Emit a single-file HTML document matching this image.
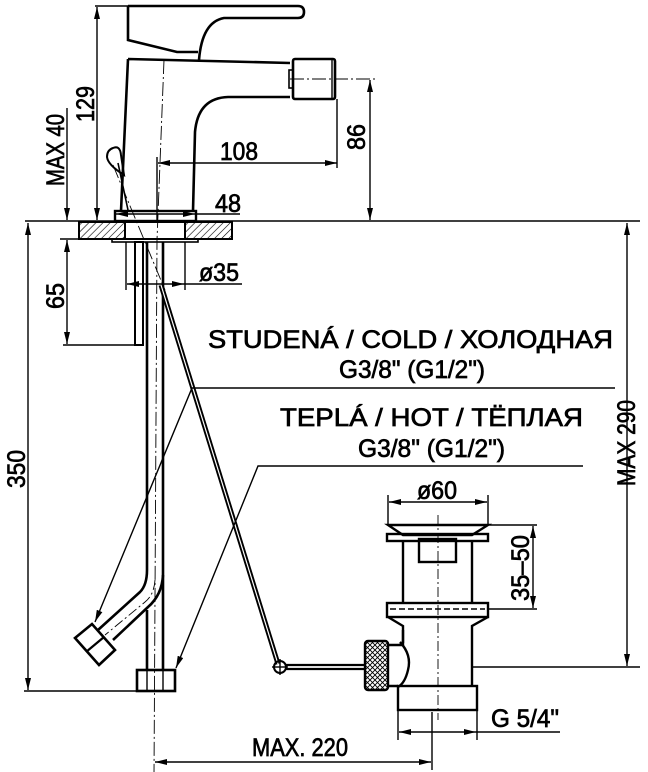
<!DOCTYPE html>
<html><head><meta charset="utf-8"><style>
html,body{margin:0;padding:0;background:#fff;}
svg{display:block}
text{font-family:"Liberation Sans Narrow","Liberation Sans",sans-serif;fill:#000;stroke:#000;stroke-width:0.7;}
</style></head><body>
<svg width="648" height="772" viewBox="0 0 648 772" xmlns="http://www.w3.org/2000/svg">
<defs>
<pattern id="h" width="5" height="5" patternUnits="userSpaceOnUse" patternTransform="rotate(45)">
<line x1="0" y1="0" x2="0" y2="5" stroke="#000" stroke-width="1.2"/></pattern>
<pattern id="k" width="5" height="5" patternUnits="userSpaceOnUse">
<path d="M0 0L5 5M5 0L0 5" stroke="#000" stroke-width="0.9"/></pattern>
<marker id="a" viewBox="0 0 12 6" refX="12" refY="3" markerWidth="12" markerHeight="6" orient="auto" markerUnits="userSpaceOnUse"><path d="M0 0L12 3L0 6z" fill="#000"/></marker>
<marker id="b" viewBox="0 0 12 6" refX="0" refY="3" markerWidth="12" markerHeight="6" orient="auto" markerUnits="userSpaceOnUse"><path d="M12 0L0 3L12 6z" fill="#000"/></marker>
</defs>
<g fill="none" stroke="#000" stroke-width="1.4">
<line x1="25" y1="221" x2="640" y2="221"/>
<path d="M128 6H298Q304 6 304 12Q304 18 298 18H224Q202 22 199 60" stroke-width="2.6"/>
<path d="M128 6V40L177 52L198 52" stroke-width="2.6"/>
<path d="M128 59L121 211M128 59L290 63M193 211L195 132Q198 98 228 97L290 97" stroke-width="2.6"/>
<rect x="293" y="59" width="42" height="40" rx="2" stroke-width="2.6"/>
<line x1="332" y1="60" x2="332" y2="98"/>
<rect x="289" y="70" width="4" height="18" stroke-width="1.6"/>
<rect x="115" y="211" width="81" height="10" stroke-width="2.4"/>
<rect x="79" y="222" width="46" height="17" fill="url(#h)" stroke-width="2"/>
<rect x="185" y="222" width="47" height="17" fill="url(#h)" stroke-width="2"/>
<rect x="125" y="222" width="60" height="17" stroke-width="2"/>
<rect x="112" y="239" width="86" height="3" stroke-width="1.6"/>
<path d="M113 148Q120 145 121 155L124 175Q108 165 107 157Q107 150 113 148Z" stroke-width="2"/>
<line x1="118" y1="163" x2="128" y2="210" stroke-width="1.6"/>
<path d="M164 60L157 240L154 775" stroke-dasharray="14 3 2 3" stroke-width="0.9"/>
<path d="M113 165L165 290" stroke-dasharray="14 3 2 3" stroke-width="0.9"/>
<line x1="290" y1="79" x2="378" y2="79" stroke-dasharray="14 3 2 3" stroke-width="0.9"/>
<line x1="438" y1="515" x2="438" y2="720" stroke-dasharray="10 3 2 3" stroke-width="0.9"/>
<line x1="472" y1="667" x2="640" y2="667"/>
<rect x="135" y="242" width="8" height="103" stroke-width="2"/>
<path d="M147 242V570Q147 585 140 592L98 630" stroke-width="2.6"/>
<path d="M163 242V670M147 610V670" stroke-width="2.6"/>
<path d="M163 575Q162 595 148 607L113 640" stroke-width="2.6"/>
<path d="M155 580Q154 595 145 602L105 635" stroke-dasharray="10 3 2 3" stroke-width="0.9"/>
<path d="M75 638L92 624L115 650L99 665Z" stroke-width="2.6"/>
<path d="M86 652L104 637" stroke-width="2.2"/>
<rect x="137" y="670" width="38" height="21" stroke-width="2.6"/>
<line x1="147" y1="670" x2="147" y2="691"/><line x1="163" y1="670" x2="163" y2="691"/>
<line x1="161" y1="285" x2="278" y2="664" stroke-width="5"/>
<line x1="161" y1="285" x2="278" y2="664" stroke="#fff" stroke-width="1.2"/>
<circle cx="280" cy="667" r="6" stroke-width="2"/>
<line x1="272" y1="667" x2="288" y2="667"/>
<line x1="280" y1="659" x2="280" y2="675"/>
<line x1="286" y1="665" x2="365" y2="665" stroke-width="2.2"/>
<line x1="286" y1="669" x2="365" y2="669" stroke-width="2.2"/>
<rect x="365" y="641" width="23" height="49" rx="3" fill="url(#k)" stroke-width="2.4"/>
<path d="M388 645H403V630M388 686H398" stroke-width="2.4"/>
<path d="M400 642Q412 655 408 670Q405 683 398 687" stroke-width="2.4"/>
<path d="M388 525H488L472 535H403Z" stroke-width="2.4"/>
<line x1="403" y1="535" x2="472" y2="535" stroke-dasharray="6 3"/>
<rect x="387" y="534" width="101" height="7" stroke-width="2.4"/>
<line x1="403" y1="541" x2="403" y2="603" stroke-width="2.4"/>
<line x1="472" y1="541" x2="472" y2="603" stroke-width="2.4"/>
<rect x="419" y="539" width="37" height="23" stroke-width="2.4"/>
<rect x="387" y="603" width="101" height="14" stroke-width="2.4"/>
<line x1="390" y1="609" x2="485" y2="609" stroke-dasharray="6 3"/>
<path d="M388 617L403 626V643M488 617L472 626V686" stroke-width="2.4"/>
<rect x="398" y="686" width="79" height="24" stroke-width="2.4"/>
<path d="M615 388H192L95 622" marker-end="url(#a)"/>
<path d="M583 466H258L176 668" marker-end="url(#a)"/>
<line x1="95" y1="6" x2="128" y2="6"/>
<line x1="97" y1="7" x2="97" y2="220" marker-start="url(#b)" marker-end="url(#a)"/>
<line x1="67" y1="108" x2="67" y2="220" marker-end="url(#a)"/>
<line x1="67" y1="240" x2="67" y2="344" marker-start="url(#b)" marker-end="url(#a)"/>
<line x1="60" y1="239" x2="112" y2="239"/>
<line x1="63" y1="345" x2="138" y2="345"/>
<line x1="28" y1="223" x2="28" y2="690" marker-start="url(#b)" marker-end="url(#a)"/>
<line x1="24" y1="691" x2="137" y2="691"/>
<line x1="157" y1="157" x2="157" y2="220"/>
<line x1="158" y1="163" x2="337" y2="163" marker-start="url(#b)" marker-end="url(#a)"/>
<line x1="337" y1="99" x2="337" y2="168"/>
<line x1="370" y1="80" x2="370" y2="220" marker-start="url(#b)" marker-end="url(#a)"/>
<line x1="116" y1="214" x2="195" y2="214" marker-start="url(#b)" marker-end="url(#a)"/>
<line x1="195" y1="214" x2="240" y2="214"/>
<line x1="126" y1="242" x2="126" y2="290"/><line x1="185" y1="242" x2="185" y2="290"/>
<line x1="127" y1="284" x2="184" y2="284" marker-start="url(#b)" marker-end="url(#a)"/>
<line x1="184" y1="284" x2="242" y2="284"/>
<line x1="388" y1="495" x2="388" y2="525"/><line x1="488" y1="495" x2="488" y2="525"/>
<line x1="389" y1="502" x2="487" y2="502" marker-start="url(#b)" marker-end="url(#a)"/>
<line x1="488" y1="525" x2="537" y2="525"/><line x1="488" y1="609" x2="537" y2="609"/>
<line x1="533" y1="526" x2="533" y2="608" marker-start="url(#b)" marker-end="url(#a)"/>
<line x1="627" y1="223" x2="627" y2="666" marker-start="url(#b)" marker-end="url(#a)"/>
<line x1="398" y1="710" x2="398" y2="740"/><line x1="477" y1="710" x2="477" y2="740"/>
<line x1="399" y1="732" x2="476" y2="732" marker-start="url(#b)" marker-end="url(#a)"/>
<line x1="476" y1="732" x2="560" y2="732"/>
<line x1="432" y1="712" x2="432" y2="770"/>
<line x1="155" y1="762" x2="431" y2="762" marker-start="url(#b)" marker-end="url(#a)"/>
</g>
<g font-size="25">
<text x="208" y="348" textLength="405" lengthAdjust="spacingAndGlyphs">STUDENÁ  /  COLD  /  ХОЛОДНАЯ</text>
<text x="339" y="378" textLength="146" lengthAdjust="spacingAndGlyphs">G3/8" (G1/2")</text>
<text x="280" y="426" textLength="303" lengthAdjust="spacingAndGlyphs">TEPLÁ  /  HOT   /  ТЁПЛАЯ</text>
<text x="358" y="457" textLength="147" lengthAdjust="spacingAndGlyphs">G3/8" (G1/2")</text>
<text x="220" y="160" textLength="38" lengthAdjust="spacingAndGlyphs">108</text>
<text x="215" y="212" textLength="26" lengthAdjust="spacingAndGlyphs">48</text>
<text x="199" y="281" textLength="40" lengthAdjust="spacingAndGlyphs">ø35</text>
<text x="417" y="499" textLength="40" lengthAdjust="spacingAndGlyphs">ø60</text>
<text x="491" y="727" textLength="68" lengthAdjust="spacingAndGlyphs">G 5/4"</text>
<text x="252" y="756" textLength="96" lengthAdjust="spacingAndGlyphs">MAX. 220</text>
<text transform="translate(94,122) rotate(-90)" textLength="36" lengthAdjust="spacingAndGlyphs">129</text>
<text transform="translate(64,186) rotate(-90)" textLength="72" lengthAdjust="spacingAndGlyphs">MAX 40</text>
<text transform="translate(64,309) rotate(-90)" textLength="26" lengthAdjust="spacingAndGlyphs">65</text>
<text transform="translate(25,488) rotate(-90)" textLength="38" lengthAdjust="spacingAndGlyphs">350</text>
<text transform="translate(365,150) rotate(-90)" textLength="26" lengthAdjust="spacingAndGlyphs">86</text>
<text transform="translate(529,601) rotate(-90)" textLength="66" lengthAdjust="spacingAndGlyphs">35–50</text>
<text transform="translate(635,486) rotate(-90)" textLength="86" lengthAdjust="spacingAndGlyphs">MAX 290</text>
</g>
</svg>
</body></html>
